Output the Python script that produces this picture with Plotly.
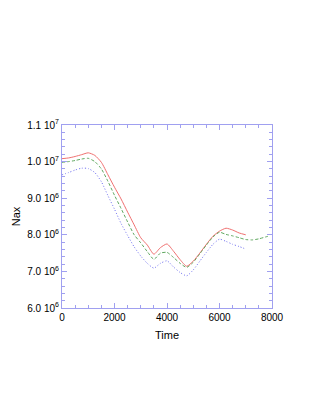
import plotly.graph_objects as go

red_t = [0, 250, 500, 750, 1000, 1250, 1500, 1750, 2000, 2250, 2500, 2750, 3000, 3250, 3500,
         3750, 4000, 4250, 4500, 4750, 5000, 5250, 5500, 5750, 6000, 6250, 6500, 6750, 7000]
red_v = [10.08, 10.10, 10.14, 10.19, 10.24, 10.17, 9.98, 9.64, 9.30, 8.98, 8.62, 8.27, 7.92, 7.72, 7.47,
         7.65, 7.75, 7.55, 7.32, 7.14, 7.28, 7.50, 7.74, 7.96, 8.10, 8.18, 8.13, 8.05, 8.00]

green_t = [0, 250, 500, 750, 1000, 1250, 1500, 1750, 2000, 2250, 2500, 2750, 3000, 3250, 3500,
           3750, 4000, 4250, 4500, 4750, 5000, 5250, 5500, 5750, 6000, 6250, 6500, 6750, 7000,
           7250, 7500, 7750, 7900]
green_v = [9.98, 10.00, 10.03, 10.07, 10.09, 10.00, 9.80, 9.46, 9.08, 8.72, 8.35, 8.00, 7.78, 7.54, 7.33,
           7.50, 7.52, 7.38, 7.22, 7.11, 7.25, 7.48, 7.72, 7.94, 8.07, 8.01, 7.97, 7.92, 7.87,
           7.86, 7.89, 7.94, 7.97]

blue_t = [0, 250, 500, 750, 1000, 1250, 1500, 1750, 2000, 2250, 2500, 2750, 3000, 3250, 3500,
          3750, 4000, 4250, 4500, 4750, 5000, 5250, 5500, 5750, 6000, 6250, 6500, 6750, 7000]
blue_v = [9.64, 9.70, 9.77, 9.82, 9.81, 9.70, 9.45, 9.07, 8.70, 8.31, 7.98, 7.67, 7.42, 7.22, 7.09,
          7.22, 7.29, 7.12, 6.97, 6.88, 7.04, 7.28, 7.52, 7.74, 7.88, 7.82, 7.74, 7.68, 7.61]

scale = 1e6
y_ticks = [6.0e6, 7.0e6, 8.0e6, 9.0e6, 1.0e7, 1.1e7]
y_labels = ["6.0 10<sup>6</sup>", "7.0 10<sup>6</sup>", "8.0 10<sup>6</sup>",
            "9.0 10<sup>6</sup>", "1.0 10<sup>7</sup>", "1.1 10<sup>7</sup>"]
x_ticks = [0, 2000, 4000, 6000, 8000]

axis_col = "#a0a0f0"
font = dict(family="Liberation Sans, Arial, sans-serif", size=10, color="black")

fig = go.Figure()
fig.add_trace(go.Scatter(x=red_t, y=[v * scale for v in red_v], mode="lines",
                         line=dict(color="#f07070", width=1, shape="spline", smoothing=0.6)))
fig.add_trace(go.Scatter(x=green_t, y=[v * scale for v in green_v], mode="lines",
                         line=dict(color="#60a860", width=1, dash="3px,2px", shape="spline", smoothing=0.6)))
fig.add_trace(go.Scatter(x=blue_t, y=[v * scale for v in blue_v], mode="lines",
                         line=dict(color="#7070f0", width=1, dash="1px,2px", shape="spline", smoothing=0.6)))

fig.update_layout(
    width=314, height=415,
    margin=dict(l=54, r=50, t=117, b=115, autoexpand=False),
    paper_bgcolor="white", plot_bgcolor="white",
    showlegend=False,
    font=font,
)
fig.update_xaxes(
    range=[0, 8000], tickvals=x_ticks, ticktext=[str(v) for v in x_ticks],
    showgrid=False, zeroline=False, showline=True, linecolor=axis_col, linewidth=1,
    mirror="allticks", ticks="inside", ticklen=5, tickcolor=axis_col,
    minor=dict(ticks="inside", dtick=500, ticklen=3, tickcolor=axis_col, showgrid=False),
    title=dict(text="Time", font=dict(size=11), standoff=9),
    tickfont=dict(size=10), automargin=False,
)
fig.update_yaxes(
    range=[6.0e6, 1.1e7], tickvals=y_ticks, ticktext=y_labels,
    showgrid=False, zeroline=False, showline=True, linecolor=axis_col, linewidth=1,
    mirror="allticks", ticks="inside", ticklen=5, tickcolor=axis_col,
    minor=dict(ticks="inside", dtick=2e5, ticklen=3, tickcolor=axis_col, showgrid=False),
    title=dict(text="Nax", font=dict(size=11), standoff=4),
    tickfont=dict(size=10), automargin=False,
)

fig.write_html("out.html")
